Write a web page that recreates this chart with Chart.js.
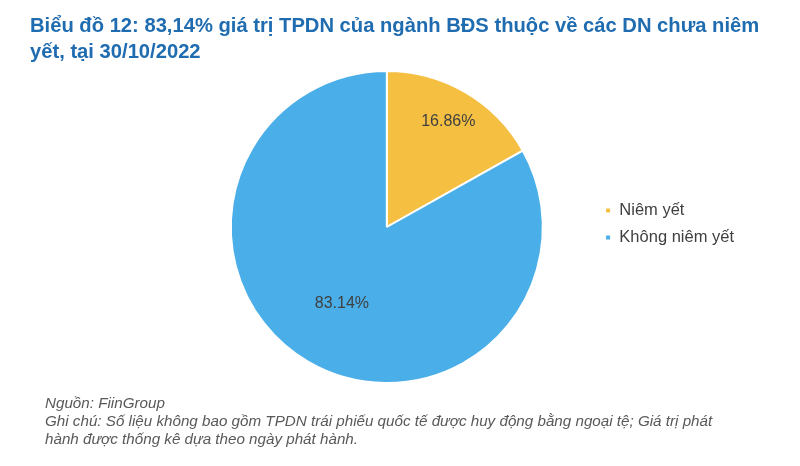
<!DOCTYPE html>
<html lang="vi">
<head>
<meta charset="utf-8">
<script src="https://cdn.jsdelivr.net/npm/chart.js@4"></script>
<style>
  html, body { margin: 0; padding: 0; background: #fff; }
  #wrap { position: relative; width: 800px; height: 466px; overflow: hidden; }
  #chart { position: absolute; left: 0; top: 0; }
  .title {
    position: absolute; left: 30px; top: 12px;
    font: bold 20.2px "Liberation Sans", Arial, sans-serif;
    color: #1f6cb0; line-height: 26px; white-space: nowrap;
  }
  .note {
    position: absolute; left: 45px; top: 394px;
    font: italic 15.2px "Liberation Sans", Arial, sans-serif;
    color: #595959; line-height: 18px; white-space: nowrap;
  }
</style>
</head>
<body>
<div id="wrap">
  <canvas id="chart" width="800" height="466"></canvas>
  <div class="title">Biểu đồ 12: 83,14% giá trị TPDN của ngành BĐS thuộc về các DN chưa niêm<br>yết, tại 30/10/2022</div>
  <div class="note">Nguồn: FiinGroup<br>Ghi chú: Số liệu không bao gồm TPDN trái phiếu quốc tế được huy động bằng ngoại tệ; Giá trị phát<br>hành được thống kê dựa theo ngày phát hành.</div>
</div>
<script>
// Dữ liệu
const categories = ['Niêm yết', 'Không niêm yết'];
const shares = [16.86, 83.14];
const sliceColors = ['#f5bf42', '#4aaee8'];

// Vị trí nhãn tính theo tỉ lệ bán kính
const labelRadius = [0.78, 0.57];

// Plugin vẽ nhãn phần trăm trên lát bánh
const sliceLabels = {
    id: 'sliceLabels',
    afterDatasetsDraw(chart) {
        const ctx = chart.ctx;
        const meta = chart.getDatasetMeta(0);
        ctx.save();
        ctx.font = '16px "Liberation Sans", Arial, sans-serif';
        ctx.fillStyle = '#404040';
        ctx.textAlign = 'center';
        ctx.textBaseline = 'middle';
        meta.data.forEach((arc, i) => {
            const mid = (arc.startAngle + arc.endAngle) / 2;
            const r = arc.outerRadius * labelRadius[i];
            const x = arc.x + Math.cos(mid) * r;
            const y = arc.y + Math.sin(mid) * r;
            ctx.fillText(shares[i].toFixed(2) + '%', x, y);
        });
        ctx.restore();
    }
};

// Dời legend lên một chút
const legendShift = {
    id: 'legendShift',
    afterLayout(chart) {
        chart.legend.top -= 3;
        chart.legend.bottom -= 3;
    }
};

new Chart(document.getElementById('chart'), {
    type: 'pie',
    data: {
        labels: categories,
        datasets: [{
            data: shares,
            backgroundColor: sliceColors,
            borderColor: '#ffffff',
            borderWidth: 2
        }]
    },
    options: {
        responsive: false,
        animation: false,
        layout: { padding: { left: 179, right: 56, top: 70, bottom: 82 } },
        plugins: {
            tooltip: { enabled: false },
            legend: {
                position: 'right',
                labels: {
                    boxWidth: 6,
                    boxHeight: 6,
                    padding: 10.5,
                    color: '#404040',
                    font: { size: 16.5, family: '"Liberation Sans", Arial, sans-serif' }
                }
            }
        }
    },
    plugins: [sliceLabels, legendShift]
});
</script>
</body>
</html>
